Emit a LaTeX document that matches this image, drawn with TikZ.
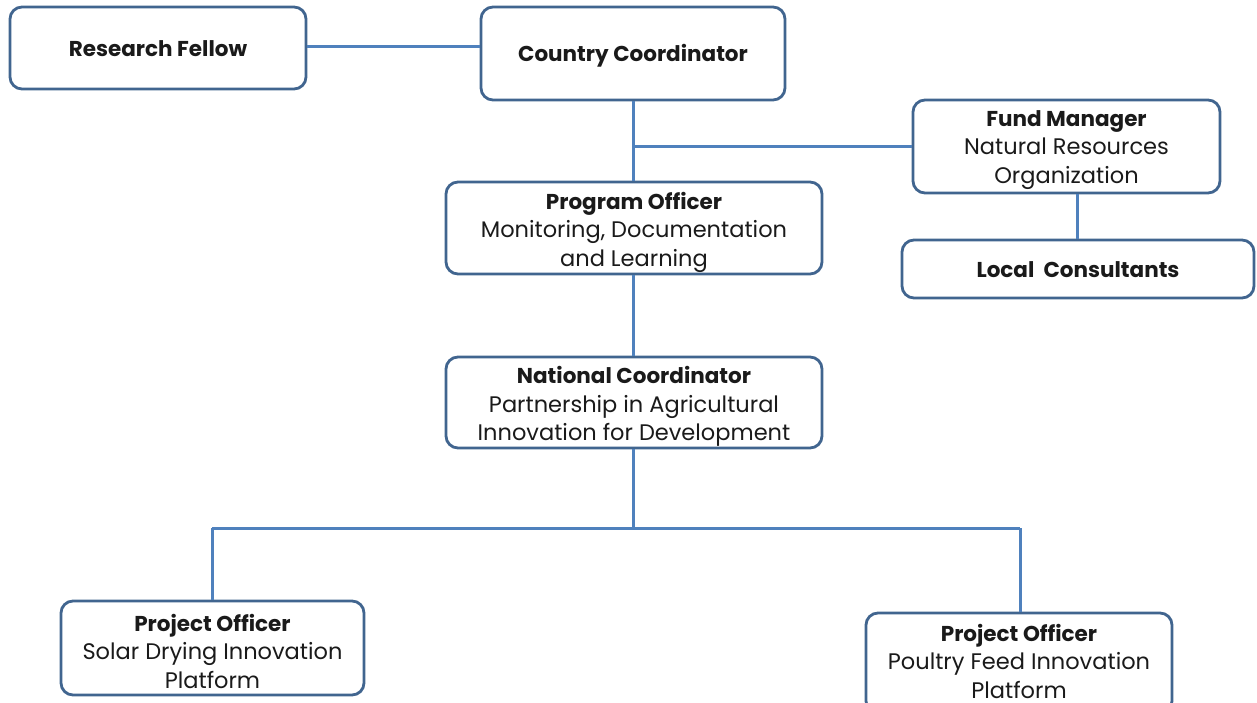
\documentclass[tikz,border=0pt]{standalone}
\usepackage{fontspec}
\setmainfont{Poppins}
\definecolor{boxline}{HTML}{41658F}
\definecolor{conn}{HTML}{4F81BD}
\definecolor{txtc}{HTML}{1A1A1A}
\newcommand{\ttl}[1]{{\fontsize{21.5}{28.5}\selectfont\bfseries #1}}
\begin{document}
\begin{tikzpicture}[x=1pt,y=-1pt,
  orgbox/.style={draw=boxline,line width=2.8pt,rounded corners=12pt,fill=white,inner sep=0pt},
  boxtext/.style={align=center,inner sep=0pt,text=txtc,font=\fontsize{22.5}{28.5}\selectfont},
  link/.style={draw=conn,line width=3pt}]
\useasboundingbox (0,0) rectangle (1257,703);
\clip (0,0) rectangle (1257,703);
\coordinate (j1) at (633,147);
\coordinate (j2) at (633,528);
\coordinate (jl) at (212,528);
\coordinate (jr) at (1020,528);
% boxes
\node[orgbox,minimum width=296pt,minimum height=82pt] (rf) at (158,48) {};
\node[orgbox,minimum width=304pt,minimum height=93pt] (cc) at (633,53.5) {};
\node[orgbox,minimum width=307pt,minimum height=93pt] (fm) at (1066.5,146.5) {};
\node[orgbox,minimum width=352pt,minimum height=58pt] (lc) at (1078,269) {};
\node[orgbox,minimum width=376pt,minimum height=92pt] (po) at (634,228) {};
\node[orgbox,minimum width=376pt,minimum height=91pt] (nc) at (634,402.5) {};
\node[orgbox,minimum width=303pt,minimum height=94pt] (pl) at (212.5,648) {};
\node[orgbox,minimum width=306pt,minimum height=100pt] (pr) at (1019,663) {};
% texts
\node[boxtext] (rft) at ([yshift=-1pt]rf.center) {\ttl{Research Fellow}};
\node[boxtext] (cct) at ([yshift=-2pt]cc.center) {\ttl{Country Coordinator}};
\node[boxtext] (fmt) at ([yshift=-3.5pt]fm.center) {\ttl{Fund Manager}\\Natural Resources\\Organization};
\node[boxtext] (lct) at ([yshift=-1pt]lc.center) {\ttl{Local\ \ Consultants}};
\node[boxtext] (pot) at ([yshift=-4pt]po.center) {\ttl{Program Officer}\\Monitoring, Documentation\\and Learning};
\node[boxtext] (nct) at ([yshift=-4pt]nc.center) {\ttl{National Coordinator}\\Partnership in Agricultural\\Innovation for Development};
\node[boxtext] (plt) at ([yshift=-3pt]pl.center) {\ttl{Project Officer}\\Solar Drying Innovation\\Platform};
\node[boxtext] (prt) at ([yshift=2pt]pr.center) {\ttl{Project Officer}\\Poultry Feed Innovation\\Platform};
% connectors
\draw[link] (rf.east |- 0,47) -- (cc.west |- 0,47);
\draw[link] (cc.south -| j1) -- (po.north -| j1);
\draw[link] (j1) -- (fm.west |- j1);
\draw[link] (fm.south -| 1077,0) -- (lc.north -| 1077,0);
\draw[link] (po.south -| j1) -- (nc.north -| j1);
\draw[link] (nc.south -| j2) -- (j2);
\draw[link] (jl) -- (jr);
\draw[link] (jl) -- (pl.north -| jl);
\draw[link] (jr) -- (pr.north -| jr);
\end{tikzpicture}
\end{document}
